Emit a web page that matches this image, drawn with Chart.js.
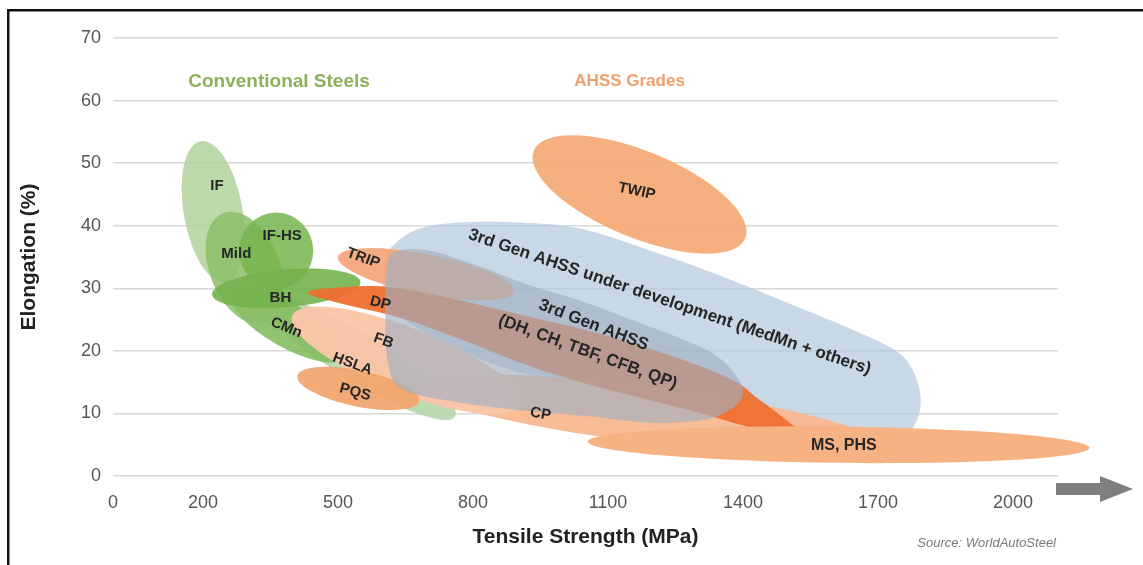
<!DOCTYPE html>
<html>
<head>
<meta charset="utf-8">
<script src="https://cdn.jsdelivr.net/npm/chart.js@4.4.0/dist/chart.umd.min.js"></script>
<style>
  html, body { margin: 0; padding: 0; background: #fff; }
</style>
</head>
<body>
<canvas id="steelChart" width="1143" height="565"></canvas>
<script>
// tick labels
const tensileTicks = [0, 200, 500, 800, 1100, 1400, 1700, 2000];
const elongationMax = 70;

// oval regions: axis from (tensileFrom, elongFrom) to (tensileTo, elongTo), half width in % elongation
const ellipseGrades = ["IF", "HSLA", "CMn", "Mild", "IF-HS", "BH", "TRIP", "FB", "CP", "PQS", "TWIP", "MS, PHS"];
const tensileFrom   = [195, 340, 265, 245, 280, 220, 500, 398, 671, 410, 935, 1055];
const elongFrom     = [53.5, 28, 29, 42, 36, 29, 35, 25.6, 14.5, 16, 52, 5.5];
const tensileTo     = [250, 760, 515, 340, 445, 550, 890, 905, 1704, 680, 1405, 2170];
const elongTo       = [31, 9.5, 19, 24.5, 36, 31, 29.5, 11.3, 5.0, 12, 38, 4.5];
const halfWidth     = [4.7, 3.8, 3.5, 5.6, 6.1, 3.0, 3.2, 5.2, 4.5, 2.9, 6.9, 2.9];

// free-form regions, outline points (tensile MPa, elongation %)
const devTensile  = [600, 625, 680, 770, 905, 1040, 1195, 1350, 1505, 1640, 1740, 1780, 1795, 1780, 1740, 1615, 1480, 1350, 1125, 860, 680, 610];
const devElong    = [34, 37, 39.5, 40.5, 40.5, 39.5, 36, 32, 27.5, 23.5, 20, 16.5, 12, 8, 6, 5.5, 7, 9.5, 13, 17.5, 23.5, 28];
const dpTensile   = [433, 482, 638, 911, 1133, 1355, 1438, 1504, 1527, 1438, 1282, 987, 749, 638, 504];
const dpElong     = [29.2, 30, 30, 25.7, 21.7, 16.1, 12.1, 8.5, 7, 7.4, 10.5, 16.1, 22.5, 25.3, 27.6];
const gen3Tensile = [610, 635, 705, 815, 925, 1040, 1150, 1260, 1335, 1380, 1400, 1380, 1315, 1195, 1060, 905, 750, 640, 610, 605];
const gen3Elong   = [34, 36, 36, 33.5, 30.5, 28, 25, 22, 19.5, 16.5, 13.5, 11, 9, 8.5, 9.5, 10.5, 12, 14, 18.5, 26.5];

// drawing order, bottom to top
const drawOrder = ["IF", "HSLA", "CMn", "Mild", "IF-HS", "BH", "3rd Gen AHSS under development",
                   "TRIP", "CP", "FB", "DP", "PQS", "3rd Gen AHSS", "TWIP", "MS, PHS"];

// labels inside the regions
const labelText     = ["IF", "Mild", "IF-HS", "BH", "CMn", "HSLA", "PQS", "TRIP", "DP", "FB", "CP", "TWIP", "MS, PHS",
                       "3rd Gen AHSS under development (MedMn + others)", "3rd Gen AHSS", "(DH, CH, TBF, CFB, QP)"];
const labelTensile  = [231, 274, 376, 372, 385, 532, 538, 556, 594, 601, 950, 1164, 1624, 1237, 1068, 1055];
const labelElong    = [46.3, 35.5, 38.4, 28.4, 23.7, 17.9, 13.4, 34.8, 27.6, 21.6, 9.9, 45.5, 4.8, 27.8, 24.1, 19.8];

// group headings
const groupText    = ["Conventional Steels", "AHSS Grades"];
const groupTensile = [369, 1148];
const groupElong   = [63, 63];

const regionColors = {
  "IF": "rgba(178,210,155,0.85)",
  "HSLA": "rgba(182,214,170,0.9)",
  "CMn": "rgba(132,188,96,0.9)",
  "Mild": "rgba(140,192,105,0.85)",
  "IF-HS": "rgba(118,182,78,0.85)",
  "BH": "rgba(116,178,76,0.9)",
  "3rd Gen AHSS under development": "rgba(176,200,220,0.7)",
  "TRIP": "rgba(244,168,125,0.95)",
  "FB": "rgba(250,198,168,0.97)",
  "CP": "rgba(248,186,148,0.97)",
  "DP": "rgba(238,112,48,0.95)",
  "PQS": "rgba(241,167,112,0.95)",
  "3rd Gen AHSS": "rgba(160,175,192,0.65)",
  "TWIP": "rgba(245,172,120,0.95)",
  "MS, PHS": "rgba(247,178,132,1)"
};
const outlines = {
  "3rd Gen AHSS under development": [devTensile, devElong],
  "DP": [dpTensile, dpElong],
  "3rd Gen AHSS": [gen3Tensile, gen3Elong]
};
const labelAngles = [0, 0, 0, 0, 22, 20, 15, 20, 14, 20, 10, 12, 0, 18.7, 21, 20];
const labelSizes  = [15, 15, 15, 15, 15, 15, 15, 15, 15, 15, 15, 15, 16, 17, 17, 17];
const groupSizes  = [19, 17];
const groupColors = ["#8db15b", "#f0a06a"];
const FONT = "'Liberation Sans', Arial, sans-serif";

// closed smooth curve through the points (Catmull-Rom)
function smoothClosed(ctx, pts) {
  const n = pts.length;
  ctx.moveTo(pts[0].x, pts[0].y);
  for (let i = 0; i < n; i++) {
    const p0 = pts[(i - 1 + n) % n], p1 = pts[i], p2 = pts[(i + 1) % n], p3 = pts[(i + 2) % n];
    ctx.bezierCurveTo(
      p1.x + (p2.x - p0.x) / 6, p1.y + (p2.y - p0.y) / 6,
      p2.x - (p3.x - p1.x) / 6, p2.y - (p3.y - p1.y) / 6,
      p2.x, p2.y
    );
  }
  ctx.closePath();
}

const regionPlugin = {
  id: "regions",
  beforeDraw(chart) {
    const ctx = chart.ctx;
    ctx.save();
    ctx.fillStyle = "#111";
    ctx.fillRect(7, 9, 2.5, chart.height);
    ctx.fillRect(7, 9, chart.width, 2.5);
    ctx.restore();
  },
  afterDatasetsDraw(chart) {
    const { ctx, scales: { x, y } } = chart;
    const unit = y.getPixelForValue(0) - y.getPixelForValue(1);

    chart.data.datasets.forEach((ds, d) => {
      const pts = chart.getDatasetMeta(d).data;
      const e = ellipseGrades.indexOf(ds.label);
      ctx.save();
      ctx.fillStyle = regionColors[ds.label];
      ctx.beginPath();
      if (e >= 0) {
        const [p1, p2] = pts;
        const a = Math.hypot(p2.x - p1.x, p2.y - p1.y) / 2;
        const ang = Math.atan2(p2.y - p1.y, p2.x - p1.x);
        ctx.ellipse((p1.x + p2.x) / 2, (p1.y + p2.y) / 2, a, halfWidth[e] * unit, ang, 0, Math.PI * 2);
      } else {
        smoothClosed(ctx, pts);
      }
      ctx.fill();
      ctx.restore();
    });

    labelText.forEach((t, i) => {
      ctx.save();
      ctx.translate(x.getPixelForValue(labelTensile[i]), y.getPixelForValue(labelElong[i]));
      ctx.rotate(labelAngles[i] * Math.PI / 180);
      ctx.font = "bold " + labelSizes[i] + "px " + FONT;
      ctx.fillStyle = "#262626";
      ctx.textAlign = "center";
      ctx.textBaseline = "middle";
      ctx.fillText(t, 0, 0);
      ctx.restore();
    });

    groupText.forEach((t, i) => {
      ctx.save();
      ctx.font = "bold " + groupSizes[i] + "px " + FONT;
      ctx.fillStyle = groupColors[i];
      ctx.textAlign = "center";
      ctx.textBaseline = "middle";
      ctx.fillText(t, x.getPixelForValue(groupTensile[i]), y.getPixelForValue(groupElong[i]));
      ctx.restore();
    });
  },
  afterDraw(chart) {
    const { ctx, chartArea } = chart;
    // arrow at the end of the x axis
    const ay = chartArea.bottom + 13;
    const x0 = chartArea.right - 2;
    ctx.save();
    ctx.fillStyle = "#7f7f7f";
    ctx.fillRect(x0, ay - 6, 46, 12);
    ctx.beginPath();
    ctx.moveTo(x0 + 44, ay - 13);
    ctx.lineTo(x0 + 77, ay);
    ctx.lineTo(x0 + 44, ay + 13);
    ctx.closePath();
    ctx.fill();
    // source note
    ctx.font = "italic 13px " + FONT;
    ctx.fillStyle = "#777";
    ctx.textAlign = "right";
    ctx.textBaseline = "middle";
    ctx.fillText("Source: WorldAutoSteel", chartArea.right - 2, 543);
    ctx.restore();
  }
};

const datasets = drawOrder.map((name) => {
  const i = ellipseGrades.indexOf(name);
  let pts;
  if (i >= 0) {
    pts = [{ x: tensileFrom[i], y: elongFrom[i] }, { x: tensileTo[i], y: elongTo[i] }];
  } else {
    const [ts, es] = outlines[name];
    pts = ts.map((t, k) => ({ x: t, y: es[k] }));
  }
  return { label: name, data: pts, pointRadius: 0, showLine: false };
});

new Chart(document.getElementById("steelChart"), {
  type: "scatter",
  data: { datasets: datasets },
  plugins: [regionPlugin],
  options: {
    responsive: false,
    animation: false,
    layout: { padding: { left: 10, right: 85, top: 38, bottom: 0 } },
    plugins: { legend: { display: false }, tooltip: { enabled: false } },
    scales: {
      x: {
        type: "linear",
        min: 0,
        max: 2100,
        afterBuildTicks: (scale) => {
          scale.ticks = tensileTicks.map((v) => ({ value: v }));
        },
        afterFit: (scale) => { scale.height = 89; },
        grid: { display: false },
        border: { display: false },
        ticks: {
          autoSkip: false,
          maxRotation: 0,
          padding: 8,
          color: "#555",
          font: { family: FONT, size: 18 },
          callback: (value) => String(value)
        },
        title: {
          display: true,
          text: "Tensile Strength (MPa)",
          color: "#222",
          font: { family: FONT, size: 21, weight: "bold" },
          padding: { top: 4, bottom: 15 }
        }
      },
      y: {
        min: 0,
        max: elongationMax,
        afterFit: (scale) => { scale.width = 103; },
        grid: { color: "#d8d8d8", lineWidth: 1.5, drawTicks: false },
        border: { display: false },
        ticks: {
          stepSize: 10,
          padding: 12,
          color: "#555",
          font: { family: FONT, size: 18 }
        },
        title: {
          display: true,
          text: "Elongation (%)",
          color: "#222",
          font: { family: FONT, size: 21, weight: "bold" },
          padding: { top: 7, bottom: 4 }
        }
      }
    }
  }
});
</script>
</body>
</html>
